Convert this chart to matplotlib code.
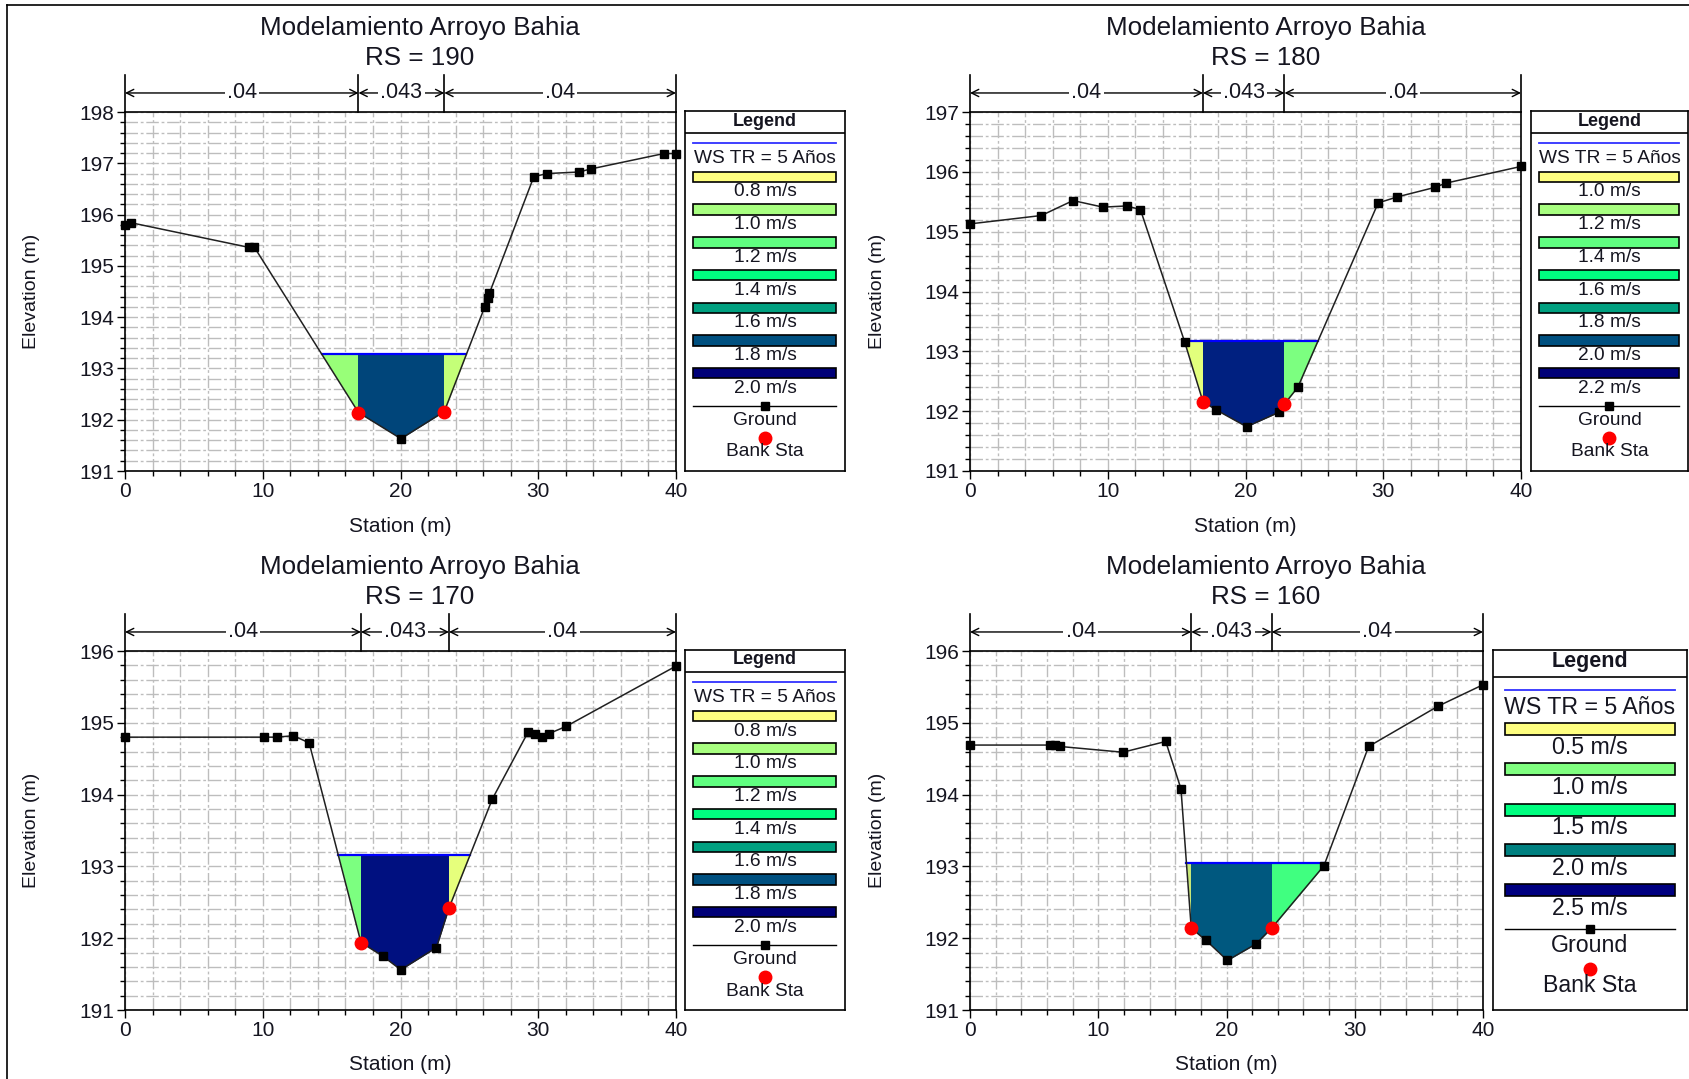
import numpy as np
import matplotlib
matplotlib.use("Agg")
import matplotlib.pyplot as plt
from matplotlib.patches import Rectangle
from matplotlib.lines import Line2D

plt.rcParams['font.family'] = ['Liberation Sans', 'DejaVu Sans']

# ---------------- data ----------------
title_main = "Modelamiento Arroyo Bahia"
x_label = "Station (m)"
y_label = "Elevation (m)"
ws_label = "WS TR = 5 Años"
n_values = [".04", ".043", ".04"]

rs_190 = "RS = 190"
sta_190 = [0, 0.45, 9.0, 9.4, 16.95, 20.03, 23.18, 26.1, 26.36, 26.46, 29.68, 30.65, 32.95, 33.83, 39.12, 40]
elev_190 = [195.79, 195.84, 195.36, 195.36, 192.14, 191.63, 192.16, 194.19, 194.37, 194.47,
            196.74, 196.80, 196.83, 196.89, 197.19, 197.19]
bank_190 = [16.95, 23.18]
ws_190 = 193.28
fill_190 = ['#98FF78', '#00457A', '#C4FF78']

rs_180 = "RS = 180"
sta_180 = [0, 5.18, 7.48, 9.65, 11.37, 12.37, 15.58, 16.91, 17.88, 20.08, 22.41, 22.83, 23.8,
           29.63, 31.0, 33.75, 34.53, 40]
elev_180 = [195.13, 195.27, 195.52, 195.41, 195.43, 195.37, 193.16, 192.16, 192.02, 191.74,
            191.98, 192.12, 192.40, 195.48, 195.58, 195.74, 195.81, 196.09]
bank_180 = [16.91, 22.83]
ws_180 = 193.17
fill_180 = ['#E2FF7C', '#002080', '#7CFF80']

rs_170 = "RS = 170"
sta_170 = [0, 10.06, 11.0, 12.23, 13.37, 17.13, 18.72, 20.02, 22.61, 23.52, 26.67, 29.26,
           29.75, 30.24, 30.79, 32.02, 40]
elev_170 = [194.80, 194.80, 194.80, 194.82, 194.72, 191.94, 191.75, 191.56, 191.87, 192.42,
            193.94, 194.87, 194.85, 194.80, 194.85, 194.95, 195.79]
bank_170 = [17.13, 23.52]
ws_170 = 193.16
fill_170 = ['#7CFF80', '#001080', '#E6FF7C']

rs_160 = "RS = 160"
sta_160 = [0, 6.2, 6.62, 7.04, 11.92, 15.26, 16.45, 17.25, 18.40, 20.07, 22.30, 23.52, 27.6,
           31.08, 36.48, 40]
elev_160 = [194.69, 194.69, 194.69, 194.67, 194.59, 194.74, 194.08, 192.14, 191.97, 191.69,
            191.92, 192.14, 193.01, 194.67, 195.23, 195.53]
bank_160 = [17.25, 23.52]
ws_160 = 193.05
fill_160 = ['#C8E878', '#00587F', '#40FF80']

leg_labels_a = ["0.8 m/s", "1.0 m/s", "1.2 m/s", "1.4 m/s", "1.6 m/s", "1.8 m/s", "2.0 m/s"]
leg_labels_b = ["1.0 m/s", "1.2 m/s", "1.4 m/s", "1.6 m/s", "1.8 m/s", "2.0 m/s", "2.2 m/s"]
leg_colors_7 = ['#FFFF80', '#A8FF80', '#60FF80', '#00FF80', '#00A080', '#005080', '#000078']
leg_labels_c = ["0.5 m/s", "1.0 m/s", "1.5 m/s", "2.0 m/s", "2.5 m/s"]
leg_colors_5 = ['#FFFF80', '#80FF80', '#00FF80', '#008080', '#000080']

# ---------------- figure ----------------
FW, FH = 1690, 1079
fig = plt.figure(figsize=(FW / 100, FH / 100), dpi=100)
TEXT = '#151520'


def fax(l, t, r, b):
    return fig.add_axes([l / FW, 1 - b / FH, (r - l) / FW, (b - t) / FH])


def ws_extent(sta, elev, ws):
    d = elev - ws
    xs = []
    for i in range(len(d) - 1):
        if (d[i] > 0) != (d[i + 1] > 0):
            xs.append(sta[i] + (sta[i + 1] - sta[i]) * d[i] / (d[i] - d[i + 1]))
    return min(xs), max(xs)


def draw_panel(box, sta, elev, banks, ws, ylim, fills, rs, title_cx):
    ax = fax(*box)
    sta = np.asarray(sta, float)
    elev = np.asarray(elev, float)
    ax.set_xlim(0, 40)
    ax.set_ylim(*ylim)
    ax.set_xticks(np.arange(0, 41, 10))
    ax.set_xticks(np.arange(0, 41, 2), minor=True)
    ax.set_yticks(np.arange(ylim[0], ylim[1] + 1, 1))
    ax.set_yticks(np.arange(ylim[0], ylim[1] + 0.01, 0.2), minor=True)
    ax.grid(which='both', color='#bdbdbd', lw=1.0, ls=(0, (9, 2, 2, 2)))
    ax.set_axisbelow(True)
    ax.tick_params(which='major', length=6, width=1, direction='out', labelsize=15, pad=2,
                   labelcolor=TEXT)
    ax.tick_params(which='minor', length=3.5, width=1, direction='out')
    for s in ax.spines.values():
        s.set_linewidth(1.2)

    zones = [(0, banks[0]), (banks[0], banks[1]), (banks[1], 40)]
    for (a, b), c in zip(zones, fills):
        poly = ax.fill_between(sta, elev, ws, where=elev <= ws, interpolate=True,
                               color=c, lw=0, zorder=1)
        rect = Rectangle((a, ylim[0]), b - a, ylim[1] - ylim[0], transform=ax.transData)
        poly.set_clip_path(rect)

    xl, xr = ws_extent(sta, elev, ws)
    ax.plot([xl, xr], [ws, ws], color='#0000FF', lw=1.6, zorder=2.5)
    ax.plot(sta, elev, color='#202020', lw=1.1, marker='s', ms=6, mfc='black',
            mec='black', zorder=3, clip_on=False)
    bank_elev = np.interp(banks, sta, elev)
    ax.plot(banks, bank_elev, 'o', color='#FF0000', ms=9, zorder=4, clip_on=False)

    # roughness bar
    tr = ax.get_xaxis_transform()
    edges = [0, banks[0], banks[1], 40]
    for e in edges:
        ax.plot([e, e], [1, 1.103], transform=tr, color='black', lw=1.2, clip_on=False)
    for i, lab in enumerate(n_values):
        a, b = edges[i], edges[i + 1]
        ax.annotate('', xy=(a, 1.053), xytext=(b, 1.053), xycoords=tr, textcoords=tr,
                    arrowprops=dict(arrowstyle='<->', lw=1, color='black',
                                    shrinkA=0, shrinkB=0, mutation_scale=13))
        ax.text((a + b) / 2, 1.053, lab, transform=tr, ha='center', va='center',
                fontsize=15.5, zorder=6, color=TEXT,
                bbox=dict(fc='white', ec='none', pad=1.5))

    l, t, r, bt = box
    cx = (l + r) / 2
    fig.text(title_cx / FW, 1 - (t - 84) / FH, title_main, ha='center', va='center',
             fontsize=18.7, color=TEXT)
    fig.text(title_cx / FW, 1 - (t - 54) / FH, rs, ha='center', va='center',
             fontsize=18.7, color=TEXT)
    fig.text((l - 93) / FW, 1 - ((t + bt) / 2) / FH, y_label, rotation=90,
             ha='center', va='center', fontsize=14, color=TEXT)
    fig.text(cx / FW, 1 - (bt + 55) / FH, x_label, ha='center', va='center', fontsize=15,
             color=TEXT)
    return ax


def draw_legend(box, labels, colors, big):
    x0, y0, x1, y1 = box
    W, H = x1 - x0, y1 - y0
    lax = fax(*box)
    lax.set_xlim(0, W)
    lax.set_ylim(H, 0)
    lax.set_xticks([])
    lax.set_yticks([])
    for s in lax.spines.values():
        s.set_linewidth(1.2)
    if big:
        p = dict(head=12, div=27, blue=40, ws=57, r0=79, sp=40.25, toff=18.5, rh=12,
                 inset=12, fs=16.7, hfs=15.5, ground=279, gtext=296, red=319, btext=336)
    else:
        p = dict(head=10, div=22, blue=32, ws=47.5, r0=66, sp=32.7, toff=15, rh=10.5,
                 inset=8.5, fs=13.8, hfs=13, ground=295, gtext=309.5, red=327, btext=341)
    lax.text(W / 2, p['head'], 'Legend', ha='center', va='center', fontsize=p['hfs'],
             weight='bold', color=TEXT)
    lax.plot([0, W], [p['div'], p['div']], color='black', lw=1.2)
    lax.plot([p['inset'], W - p['inset']], [p['blue'], p['blue']], color='#3030FF', lw=1.3)
    lax.text(W / 2, p['ws'], ws_label, ha='center', va='center', fontsize=p['fs'], color=TEXT)
    for i, (lab, c) in enumerate(zip(labels, colors)):
        yc = p['r0'] + i * p['sp']
        lax.add_patch(Rectangle((p['inset'], yc - p['rh'] / 2), W - 2 * p['inset'], p['rh'],
                                fc=c, ec='black', lw=1.2))
        lax.text(W / 2, yc + p['toff'], lab, ha='center', va='center', fontsize=p['fs'],
                 color=TEXT)
    lax.plot([p['inset'], W - p['inset']], [p['ground'], p['ground']], color='black', lw=1)
    lax.plot([W / 2], [p['ground']], 's', color='black', ms=6)
    lax.text(W / 2, p['gtext'], 'Ground', ha='center', va='center', fontsize=p['fs'], color=TEXT)
    lax.plot([W / 2], [p['red']], 'o', color='#FF0000', ms=9)
    lax.text(W / 2, p['btext'], 'Bank Sta', ha='center', va='center', fontsize=p['fs'],
             color=TEXT)


draw_panel((125, 112, 676, 471), sta_190, elev_190, bank_190, ws_190, (191, 198), fill_190, rs_190, 420)
draw_panel((970, 112, 1521, 471), sta_180, elev_180, bank_180, ws_180, (191, 197), fill_180, rs_180, 1266)
draw_panel((125, 651, 676, 1010), sta_170, elev_170, bank_170, ws_170, (191, 196), fill_170, rs_170, 420)
draw_panel((970, 651, 1483, 1010), sta_160, elev_160, bank_160, ws_160, (191, 196), fill_160, rs_160, 1266)

draw_legend((685, 111, 845, 471), leg_labels_a, leg_colors_7, False)
draw_legend((1531, 111, 1688, 471), leg_labels_b, leg_colors_7, False)
draw_legend((685, 650, 845, 1010), leg_labels_a, leg_colors_7, False)
draw_legend((1493, 650, 1687, 1010), leg_labels_c, leg_colors_5, True)

# outer frame (left and top edges visible)
fig.add_artist(Line2D([7 / FW, 7 / FW], [0, 1 - 5 / FH], transform=fig.transFigure,
                      color='black', lw=1.2))
fig.add_artist(Line2D([7 / FW, 1], [1 - 5 / FH, 1 - 5 / FH], transform=fig.transFigure,
                      color='black', lw=1.2))

fig.savefig("out.png", dpi=100)
